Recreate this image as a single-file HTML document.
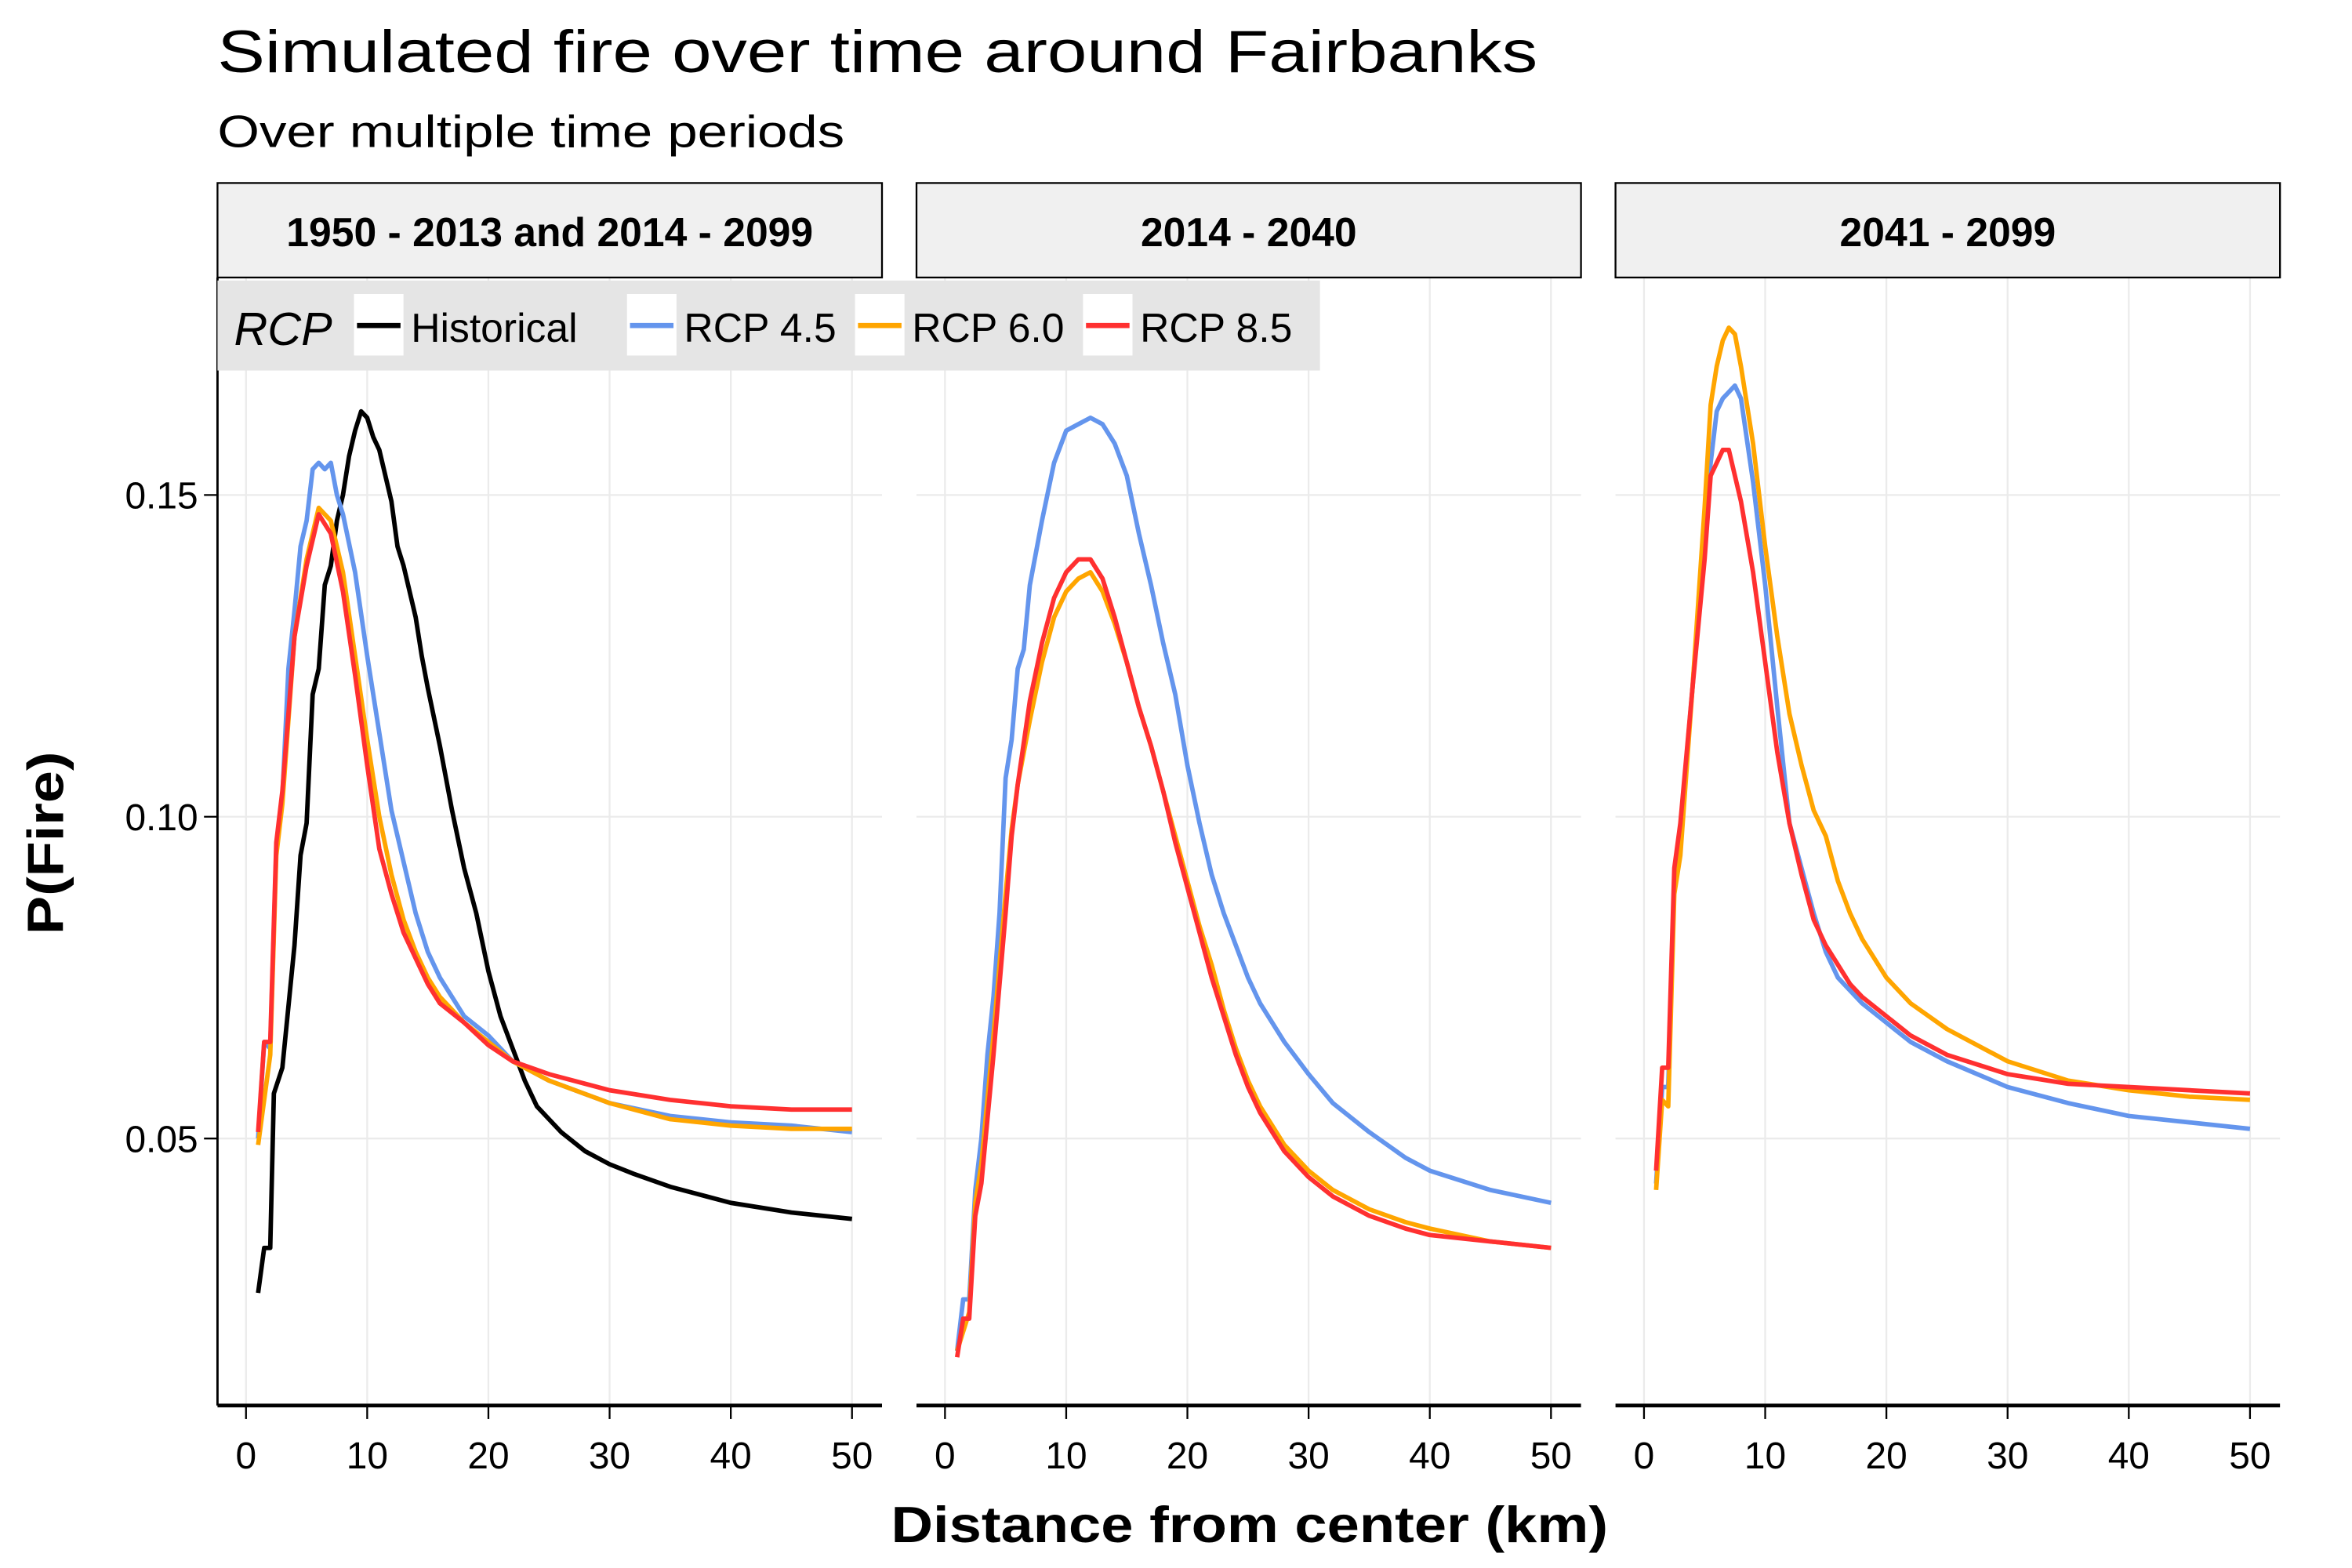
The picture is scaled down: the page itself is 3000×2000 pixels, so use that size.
<!DOCTYPE html>
<html><head><meta charset="utf-8"><style>
html,body{margin:0;padding:0;background:#fff;}
svg{display:block;font-family:"Liberation Sans",sans-serif;}
</style></head><body>
<svg id="chart" width="3000" height="2000" viewBox="0 0 1568 1045.33" xmlns="http://www.w3.org/2000/svg">
<rect width="1568" height="1046" fill="#fff"/>
<text x="145" y="48" font-size="40" textLength="880" lengthAdjust="spacingAndGlyphs">Simulated fire over time around Fairbanks</text>
<text x="145" y="98" font-size="30" textLength="418" lengthAdjust="spacingAndGlyphs">Over multiple time periods</text>
<g id="panels"></g>
<text x="833" y="1028" font-size="34" font-weight="bold" text-anchor="middle" textLength="478" lengthAdjust="spacingAndGlyphs">Distance from center (km)</text>
<text transform="translate(42,562) rotate(-90)" font-size="34" font-weight="bold" text-anchor="middle" textLength="122" lengthAdjust="spacingAndGlyphs">P(Fire)</text>
<g id="legend"></g>
</svg>
<script>
const panelTitles = ["1950 - 2013 and 2014 - 2099", "2014 - 2040", "2041 - 2099"];
const xTicks = [0, 10, 20, 30, 40, 50];
const yTicks = [0.05, 0.10, 0.15];
const yTickLabels = ["0.05", "0.10", "0.15"];
const seriesNames = ["Historical", "RCP 4.5", "RCP 6.0", "RCP 8.5"];
const seriesColors = ["#000000", "#6495ED", "#FFA500", "#FF3030"];

// Panel 1
const p1HistX = [1,1.5,2,2.3,3,4,4.5,5,5.5,6,6.5,7,7.5,8,8.5,9,9.5,10,10.5,11,12,12.5,13,14,14.5,15,16,17,18,19,20,21,22,23,24,25,26,28,30,32,35,38,40,45,50];
const p1HistY = [0.026,0.033,0.033,0.057,0.061,0.080,0.094,0.099,0.119,0.123,0.136,0.139,0.146,0.150,0.156,0.160,0.163,0.162,0.159,0.157,0.149,0.142,0.139,0.131,0.125,0.120,0.111,0.101,0.092,0.085,0.076,0.069,0.064,0.059,0.055,0.053,0.051,0.048,0.046,0.0445,0.0425,0.041,0.040,0.0385,0.0375];
const p1R45X = [1,1.5,2,2.5,3,3.5,4,4.5,5,5.5,6,6.5,7,7.5,8,9,10,11,12,13,14,15,16,17,18,20,22,25,30,35,40,45,50];
const p1R45Y = [0.050,0.065,0.064,0.095,0.103,0.123,0.132,0.142,0.146,0.154,0.155,0.154,0.155,0.150,0.147,0.138,0.125,0.113,0.101,0.093,0.085,0.079,0.075,0.072,0.069,0.066,0.062,0.059,0.0555,0.0535,0.0525,0.052,0.051];
const p1R60X = [1,2,2.5,3,4,5,6,7,8,9,10,11,12,13,14,15,16,18,20,22,25,30,35,40,45,50];
const p1R60Y = [0.049,0.063,0.094,0.102,0.128,0.140,0.148,0.146,0.138,0.125,0.112,0.100,0.091,0.084,0.079,0.075,0.072,0.068,0.065,0.062,0.059,0.0555,0.053,0.052,0.0515,0.0515];
const p1R85X = [1,1.5,2,2.5,3,4,5,6,7,8,9,10,11,12,13,14,15,16,18,20,22,25,30,35,40,45,50];
const p1R85Y = [0.051,0.065,0.065,0.096,0.104,0.128,0.139,0.147,0.144,0.135,0.122,0.108,0.095,0.088,0.082,0.078,0.074,0.071,0.068,0.0645,0.062,0.060,0.0575,0.056,0.055,0.0545,0.0545];

// Panel 2
const p2R45X = [1,1.5,2,2.5,3,3.5,4,4.5,5,5.5,6,6.5,7,8,9,10,11,12,13,14,15,16,17,18,19,20,21,22,23,24,25,26,28,30,32,35,38,40,45,50];
const p2R45Y = [0.017,0.025,0.025,0.042,0.050,0.063,0.072,0.085,0.106,0.112,0.123,0.126,0.136,0.146,0.155,0.160,0.161,0.162,0.161,0.158,0.153,0.144,0.136,0.127,0.119,0.108,0.099,0.091,0.085,0.080,0.075,0.071,0.065,0.060,0.0555,0.051,0.047,0.045,0.042,0.040];
const p2R60X = [1,2,2.5,3,4,5,5.5,6,7,8,9,10,11,12,13,14,15,16,17,18,19,20,21,22,23,24,25,26,28,30,32,35,38,40,45,50];
const p2R60Y = [0.017,0.023,0.040,0.046,0.066,0.088,0.098,0.105,0.115,0.124,0.131,0.135,0.137,0.138,0.135,0.130,0.124,0.117,0.111,0.104,0.097,0.090,0.083,0.077,0.070,0.064,0.059,0.055,0.049,0.045,0.042,0.039,0.037,0.036,0.034,0.033];
const p2R85X = [1,1.5,2,2.5,3,4,5,5.5,6,7,8,9,10,11,12,13,14,15,16,17,18,19,20,21,22,23,24,25,26,28,30,32,35,38,40,45,50];
const p2R85Y = [0.016,0.022,0.022,0.038,0.043,0.063,0.085,0.097,0.105,0.118,0.127,0.134,0.138,0.140,0.140,0.137,0.131,0.124,0.117,0.111,0.104,0.096,0.089,0.082,0.075,0.069,0.063,0.058,0.054,0.048,0.044,0.041,0.038,0.036,0.035,0.034,0.033];

// Panel 3
const p3R45X = [1,1.5,2,2.5,3,4,5,5.5,6,6.5,7,7.5,8,9,10,11,12,13,14,15,16,17,18,20,22,25,30,35,40,45,50];
const p3R45Y = [0.043,0.058,0.058,0.090,0.098,0.120,0.145,0.155,0.163,0.165,0.166,0.167,0.165,0.152,0.136,0.117,0.099,0.092,0.085,0.079,0.075,0.073,0.071,0.068,0.065,0.062,0.058,0.0555,0.0535,0.0525,0.0515];
const p3R60X = [1,1.5,2,2.5,3,4,5,5.5,6,6.5,7,7.5,8,9,10,11,12,13,14,15,16,17,18,20,22,25,30,35,40,45,50];
const p3R60Y = [0.042,0.056,0.055,0.088,0.094,0.120,0.148,0.164,0.170,0.174,0.176,0.175,0.170,0.158,0.142,0.128,0.116,0.108,0.101,0.097,0.090,0.085,0.081,0.075,0.071,0.067,0.062,0.059,0.0575,0.0565,0.056];
const p3R85X = [1,1.5,2,2.5,3,4,5,5.5,6,6.5,7,7.5,8,9,10,11,12,13,14,15,16,17,18,20,22,25,30,35,40,45,50];
const p3R85Y = [0.045,0.061,0.061,0.092,0.099,0.120,0.140,0.153,0.155,0.157,0.157,0.153,0.149,0.138,0.124,0.110,0.099,0.091,0.084,0.080,0.077,0.074,0.072,0.069,0.066,0.063,0.060,0.0585,0.058,0.0575,0.057];

const panelSeries = [
  [[0,p1HistX,p1HistY],[1,p1R45X,p1R45Y],[2,p1R60X,p1R60Y],[3,p1R85X,p1R85Y]],
  [[1,p2R45X,p2R45Y],[2,p2R60X,p2R60Y],[3,p2R85X,p2R85Y]],
  [[1,p3R45X,p3R45Y],[2,p3R60X,p3R60Y],[3,p3R85X,p3R85Y]]
];

const NS = "http://www.w3.org/2000/svg";
function mk(tag, attrs, parent) {
  const e = document.createElementNS(NS, tag);
  for (const k in attrs) e.setAttribute(k, attrs[k]);
  parent.appendChild(e);
  return e;
}
const panelLeft = [145, 611, 1077];
const panelWidth = 443;
const plotTop = 185, plotBottom = 937;
function yScale(v) { return 759 - (v - 0.05) * 4290; }
function xScale(p, v) { return panelLeft[p] + 19 + v * 8.08; }

const root = document.getElementById("panels");
panelTitles.forEach((title, p) => {
  const g = mk("g", {}, root);
  
  
  const L = panelLeft[p], R = L + panelWidth;
  xTicks.forEach(t => {
    const gl = mk("line", {x1: xScale(p, t), x2: xScale(p, t), y1: plotTop, y2: plotBottom, stroke: "#ebebeb", "stroke-width": 1.2}, g);
    
    
  });
  yTicks.forEach(t => {
    const gl = mk("line", {x1: L, x2: R, y1: yScale(t), y2: yScale(t), stroke: "#ebebeb", "stroke-width": 1.2}, g);
    
    
  });
  const strip = mk("rect", {x: L, y: 122, width: panelWidth, height: 63, fill: "#f0f0f0", stroke: "#000", "stroke-width": 1.2}, g);
  
  
  const st = mk("text", {x: L + panelWidth / 2, y: 164, "font-size": 27, "font-weight": "bold", "text-anchor": "middle"}, g);
  st.textContent = title;
  
  
  const ax = mk("line", {x1: L, x2: R, y1: plotBottom, y2: plotBottom, stroke: "#000", "stroke-width": 2.5}, g);
  
  
  xTicks.forEach(t => {
    const tk = mk("line", {x1: xScale(p, t), x2: xScale(p, t), y1: plotBottom, y2: plotBottom + 9, stroke: "#000", "stroke-width": 1.2}, g);
    
    
    const tl = mk("text", {x: xScale(p, t), y: 979, "font-size": 25, "text-anchor": "middle"}, g);
    tl.textContent = String(t);
    
    
  });
  panelSeries[p].forEach(([si, xs, ys]) => {
    const d = xs.map((x, i) => (i ? "L" : "M") + xScale(p, x).toFixed(2) + "," + yScale(ys[i]).toFixed(2)).join(" ");
    const path = mk("path", {d: d, fill: "none", stroke: seriesColors[si], "stroke-width": 3, "stroke-linejoin": "round"}, g);
    
    
  });
});
const yaxis = mk("line", {x1: 145, x2: 145, y1: plotTop, y2: plotBottom, stroke: "#000", "stroke-width": 1.5}, root);


yTicks.forEach((t, i) => {
  const tk = mk("line", {x1: 136, x2: 145, y1: yScale(t), y2: yScale(t), stroke: "#000", "stroke-width": 1.2}, root);
  
  
  const tl = mk("text", {x: 132, y: yScale(t) + 9, "font-size": 25, "text-anchor": "end"}, root);
  tl.textContent = yTickLabels[i];
  
  
});
const lg = document.getElementById("legend");
mk("rect", {x: 145, y: 187, width: 735, height: 60, fill: "#e5e5e5"}, lg);
const lt = mk("text", {x: 156, y: 230, "font-size": 31, "font-style": "italic"}, lg);
lt.textContent = "RCP";


const keyX = [236, 418, 570, 722];
seriesNames.forEach((n, i) => {
  const eg = mk("g", {}, lg);
  
  
  mk("rect", {x: keyX[i], y: 196, width: 33, height: 41, fill: "#fff"}, eg);
  mk("line", {x1: keyX[i] + 2, x2: keyX[i] + 31, y1: 217, y2: 217, stroke: seriesColors[i], "stroke-width": 3.5}, eg);
  const t = mk("text", {x: keyX[i] + 38, y: 228, "font-size": 27}, eg);
  t.textContent = n;
});
</script>
</body></html>
